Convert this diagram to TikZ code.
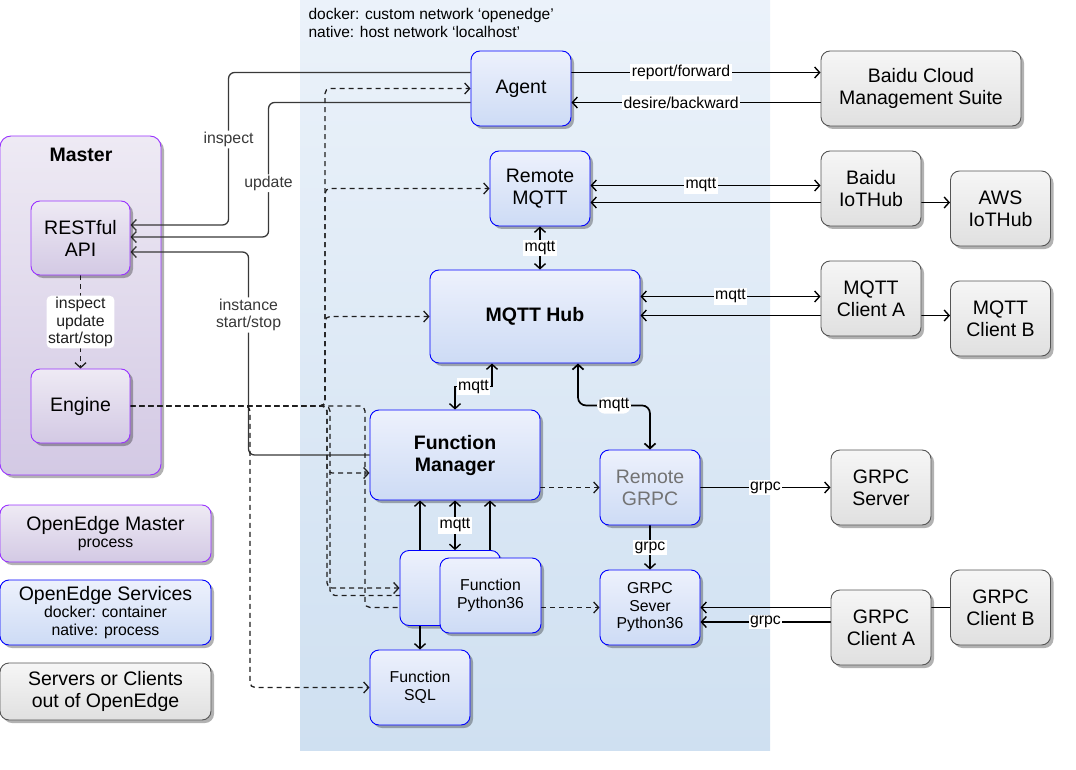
\documentclass[tikz,border=0pt]{standalone}
\usepackage{fontspec}
\setmainfont{Liberation Sans}
\usetikzlibrary{arrows.meta,shadows}
\pgfdeclarelayer{bg}
\pgfdeclarelayer{edges}
\pgfsetlayers{bg,edges,main}
\definecolor{svctop}{HTML}{EDF1FC}
\definecolor{svcbot}{HTML}{CDDBF5}
\definecolor{svcline}{HTML}{0000FF}
\definecolor{mstop}{HTML}{EEEAF4}
\definecolor{msbot}{HTML}{D3C9E4}
\definecolor{msline}{HTML}{9933FF}
\definecolor{exttop}{HTML}{F6F6F6}
\definecolor{extbot}{HTML}{E0E0E0}
\definecolor{extline}{HTML}{555555}
\definecolor{nettop}{HTML}{EBF2FA}
\definecolor{netbot}{HTML}{CFE0F1}
\newcommand\fbig{\fontsize{19.5}{22}\selectfont}
\newcommand\fsmall{\fontsize{15.8}{17.5}\selectfont}
\tikzset{
  box/.style={rounded corners=9pt, line width=0.9pt, align=center, inner sep=2pt,
    minimum width=100pt, minimum height=75pt, font=\fbig,
    drop shadow={shadow xshift=3pt,shadow yshift=-3pt,fill=black,opacity=.3}},
  svc/.style={box, draw=svcline, top color=svctop, bottom color=svcbot},
  mst/.style={box, draw=msline, top color=mstop, bottom color=msbot},
  ext/.style={box, draw=extline, top color=exttop, bottom color=extbot},
  lbl/.style={fill=white, inner sep=1.5pt, font=\fsmall, align=center},
  conn/.style={line width=1.4pt, black},
  gconn/.style={line width=1.3pt, black!78, rounded corners=6pt},
  dconn/.style={line width=1.3pt, black!88, dash pattern=on 5pt off 4pt, rounded corners=5pt},
}
\begin{document}
\begin{tikzpicture}[x=1pt,y=-1pt,>={Straight Barb[length=5pt,width=11pt]}]
\useasboundingbox (0,0) rectangle (1076,770);
\begin{pgfonlayer}{bg}
% network area
\fill[top color=nettop, bottom color=netbot] (300,0) rectangle (770,750);
\node[anchor=north west, align=left, font=\fontsize{15.5}{18}\selectfont] (net) at (305,5)
  {docker: custom network ‘openedge’\\native: host network ‘localhost’};
% master process
\node[mst, rounded corners=11pt, minimum width=161pt, minimum height=339pt] (master) at (80.5,305.5) {};
\node[font=\fbig\bfseries] (mtitle) at (81,155) {Master};
\end{pgfonlayer}

\node[mst, minimum width=99pt, minimum height=74pt] (rest) at (80.5,238) {RESTful\\API};
\node[mst, minimum width=99pt, minimum height=74pt] (engine) at (80.5,406) {Engine};

% services
\node[svc] (agent) at (521,88.5) {Agent};
\node[svc] (rmqtt) at (540,188.5) {Remote\\MQTT};
\node[svc, minimum width=210pt, minimum height=93pt, font=\fbig\bfseries] (hub) at (535,316.5) {MQTT Hub};
\node[svc, minimum width=170pt, minimum height=90pt, font=\fbig\bfseries] (fm) at (455,455) {Function\\Manager};
\node[svc, text=black!55] (rgrpc) at (650,487.5) {Remote\\GRPC};
\node[svc] (fback) at (450,588) {};
\node[svc, minimum width=101pt, font=\fsmall] (fpy) at (490.5,595.5) {Function\\Python36};
\node[svc, font=\fsmall] (gsev) at (650,607.5) {GRPC\\Sever\\Python36};
\node[svc, font=\fsmall] (fsql) at (420,687.5) {Function\\SQL};

% outside
\node[ext, minimum width=200pt] (cloud) at (921,88.5) {Baidu Cloud\\Management Suite};
\node[ext] (bhub) at (871,188.5) {Baidu\\IoTHub};
\node[ext] (aws) at (1000.5,208.5) {AWS\\IoTHub};
\node[ext] (mca) at (871,298.5) {MQTT\\Client A};
\node[ext] (mcb) at (1000.5,318.5) {MQTT\\Client B};
\node[ext] (gsrv) at (881,487.5) {GRPC\\Server};
\node[ext] (gca) at (881,627.5) {GRPC\\Client A};
\node[ext] (gcb) at (1000.5,607.5) {GRPC\\Client B};

% legend
\node[mst, minimum width=211pt, minimum height=57pt, font=\fsmall] (lgmaster) at (105.5,533.5)
  {{\fbig OpenEdge Master}\\process};
\node[svc, minimum width=211pt, minimum height=65pt, font=\fsmall] (lgsvc) at (105.5,612.5)
  {{\fbig OpenEdge Services}\\docker: container\\native: process};
\node[ext, minimum width=211pt, minimum height=57pt] (lgext) at (105.5,691.5)
  {Servers or Clients\\out of OpenEdge};

\begin{pgfonlayer}{edges}
% master api
\draw[gconn,->] ([yshift=16pt]agent.west) -- ++(-242,0) |- node[lbl,pos=.22]{inspect} ([yshift=13pt]rest.east);
\draw[gconn,->] ([yshift=-14pt]agent.west) -- ++(-202,0) |- node[lbl,pos=.3]{update} ([yshift=1pt]rest.east);
\draw[gconn,->] (fm.west) -- ++(-121,0) |- node[lbl,pos=.345]{instance\\start/stop} ([yshift=-14pt]rest.east);
\draw[dconn,->] (rest.south) -- node[lbl]{inspect\\update\\start/stop} (engine.north);
% engine starts services
\draw[dconn,->] (engine.east) -- (325,406) |- (agent.west);
\draw[dconn,->] (engine.east) -- (325,406) |- (rmqtt.west);
\draw[dconn,->] (engine.east) -- (325,406) |- (hub.west);
\draw[dconn,->] (engine.east) -- (327,406) |- ([yshift=-18pt]fm.west);
\draw[dconn,->] (engine.east) -- (327,406) |- (fback.west);
\draw[dconn,->] (engine.east) -- (330,406) |- (fpy.west);
\draw[dconn,->] (engine.east) -- (365,406) |- ([yshift=-12pt]fpy.west);
\draw[dconn,->] (engine.east) -- (250,406) |- (fsql.west);
% cloud
\draw[conn,->] ([yshift=16pt]agent.east) -- node[lbl,pos=.44]{report/forward} ([yshift=16pt]agent.east -| cloud.west);
\draw[conn,->] ([yshift=-14pt]cloud.west) -- node[lbl,pos=.56]{desire/backward} ([yshift=-14pt]cloud.west -| agent.east);
% mqtt
\draw[conn,<->] ([yshift=3pt]rmqtt.east) -- node[lbl,pos=.48]{mqtt} ([yshift=3pt]rmqtt.east -| bhub.west);
\draw[conn,->] ([yshift=-14pt]bhub.west) -- ([yshift=-14pt]bhub.west -| rmqtt.east);
\draw[conn,->] ([yshift=-14pt]bhub.east) -- ([yshift=-14pt]bhub.east -| aws.west);
\draw[conn,<->] (rmqtt.south) -- node[lbl]{mqtt} (rmqtt.south |- hub.north);
\draw[conn,<->] ([yshift=20pt]hub.east) -- node[lbl]{mqtt} ([yshift=20pt]hub.east -| mca.west);
\draw[conn,->] ([yshift=-17pt]mca.west) -- ([yshift=-17pt]mca.west -| hub.east);
\draw[conn,->] ([yshift=-17pt]mca.east) -- ([yshift=-17pt]mca.east -| mcb.west);
\draw[conn,<->] (fm.north) -- ++(0,-23) -| node[lbl,pos=.25]{mqtt} ([xshift=-43pt]hub.south);
\draw[conn,<->,line width=1.7pt,rounded corners=8pt] ([xshift=43pt]hub.south) -- ++(0,42) -| node[lbl,pos=.25]{mqtt} (rgrpc.north);
% functions
\draw[conn,->] ([xshift=-30pt]fback.north) -- ([xshift=-30pt]fback.north |- fm.south);
\draw[conn,<->] (fback.north -| fm.south) -- node[lbl]{mqtt} (fm.south);
\draw[conn,<->] ([xshift=35pt]fm.south) -- ([xshift=35pt]fm.south |- fpy.north);
\draw[conn,->] (fsql.north |- fback.south) -- (fsql.north);
\draw[dconn,->] (rgrpc.west -| fm.east) -- (rgrpc.west);
\draw[dconn,->] (gsev.west -| fpy.east) -- (gsev.west);
% grpc
\draw[conn,->] (rgrpc.south) -- node[lbl]{grpc} (gsev.north);
\draw[conn,->] (rgrpc.east) -- node[lbl]{grpc} (gsrv.west);
\draw[conn,->] (gcb.west) -- (gsev.east);
\draw[conn,->] ([yshift=5.5pt]gca.west) -- node[lbl]{grpc} ([yshift=5.5pt]gca.west -| gsev.east);
\end{pgfonlayer}
\end{tikzpicture}
\end{document}
